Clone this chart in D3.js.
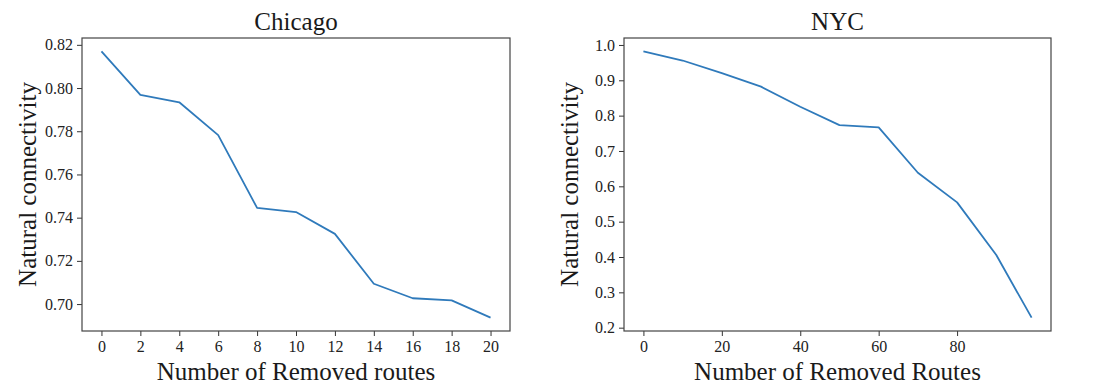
<!DOCTYPE html>
<html>
<head>
<meta charset="utf-8">
<script src="https://cdn.jsdelivr.net/npm/d3@7"></script>
<style>
  html, body { margin: 0; padding: 0; background: #fff; }
  svg { display: block; }
  text { font-family: "Liberation Serif", "DejaVu Serif", serif; fill: #1a1a1a; }
</style>
</head>
<body>
<svg id="chart" width="1098" height="392"></svg>
<script>
// ---- Data ----
const chicagoRemoved = [0, 2, 4, 6, 8, 10, 12, 14, 16, 18, 20];
const chicagoConnectivity = [0.8170, 0.7968, 0.7934, 0.7782, 0.7445, 0.7426, 0.7325, 0.7094, 0.7027, 0.7017, 0.6937];
const chicagoXTicks = [0, 2, 4, 6, 8, 10, 12, 14, 16, 18, 20];
const chicagoYTicks = [0.70, 0.72, 0.74, 0.76, 0.78, 0.80, 0.82];

const nycRemoved = [0, 10, 20, 30, 40, 50, 60, 70, 80, 90, 99];
const nycConnectivity = [0.982, 0.956, 0.920, 0.882, 0.825, 0.773, 0.767, 0.6385, 0.5545, 0.4056, 0.2283];
const nycXTicks = [0, 20, 40, 60, 80];
const nycYTicks = [0.2, 0.3, 0.4, 0.5, 0.6, 0.7, 0.8, 0.9, 1.0];

const panels = [
  { title: "Chicago", xlabel: "Number of Removed routes", ylabel: "Natural connectivity",
    x: chicagoRemoved, y: chicagoConnectivity, xt: chicagoXTicks, yt: chicagoYTicks, yfmt: d3.format(".2f"),
    left: 82, right: 510 },
  { title: "NYC", xlabel: "Number of Removed Routes", ylabel: "Natural connectivity",
    x: nycRemoved, y: nycConnectivity, xt: nycXTicks, yt: nycYTicks, yfmt: d3.format(".1f"),
    left: 624, right: 1051 }
];

const plotTop = 38, plotBottom = 331;
const serif = '"Liberation Serif", "DejaVu Serif", serif';
const svg = d3.select("#chart");

function padded(arr) {
  const [lo, hi] = d3.extent(arr);
  const m = (hi - lo) * 0.05;
  return [lo - m, hi + m];
}

panels.forEach(p => {
  const xs = d3.scaleLinear().domain(padded(p.x)).range([p.left, p.right]);
  const ys = d3.scaleLinear().domain(padded(p.y)).range([plotBottom, plotTop]);
  const g = svg.append("g");

  const pts = p.x.map((v, i) => [v, p.y[i]]);
  g.append("path")
    .datum(pts)
    .attr("fill", "none")
    .attr("stroke", "#2f7abb")
    .attr("stroke-width", 1.8)
    .attr("stroke-linejoin", "round")
    .attr("d", d3.line().x(d => xs(d[0])).y(d => ys(d[1])));

  const xAxis = g.append("g").attr("transform", `translate(0,${plotBottom})`)
    .call(d3.axisBottom(xs).tickValues(p.xt).tickSize(5).tickPadding(5).tickFormat(d3.format("d")));
  const yAxis = g.append("g").attr("transform", `translate(${p.left},0)`)
    .call(d3.axisLeft(ys).tickValues(p.yt).tickSize(5).tickPadding(4).tickFormat(p.yfmt));
  [xAxis, yAxis].forEach(a => {
    a.attr("font-family", null).attr("font-size", null);
    a.select(".domain").remove();
    a.selectAll(".tick line").attr("stroke", "#333").attr("stroke-width", 1);
    a.selectAll(".tick text")
      .style("font-family", serif)
      .style("font-size", "16px")
      .style("fill", "#222");
  });

  g.append("rect")
    .attr("x", p.left).attr("y", plotTop)
    .attr("width", p.right - p.left).attr("height", plotBottom - plotTop)
    .attr("fill", "none").attr("stroke", "#444").attr("stroke-width", 1.2);

  const cx = (p.left + p.right) / 2;
  g.append("text").attr("x", cx).attr("y", 30).attr("text-anchor", "middle")
    .style("font-size", "25px").text(p.title);
  g.append("text").attr("x", cx).attr("y", 380).attr("text-anchor", "middle")
    .style("font-size", "25px").text(p.xlabel);
  g.append("text")
    .attr("transform", `translate(${p.left - 46},${(plotTop + plotBottom) / 2}) rotate(-90)`)
    .attr("text-anchor", "middle").style("font-size", "25px").text(p.ylabel);
});
</script>
</body>
</html>
